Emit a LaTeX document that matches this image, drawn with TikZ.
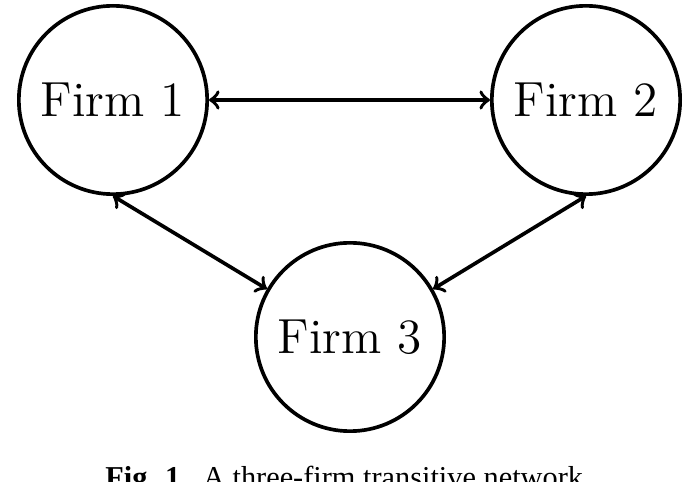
\documentclass[tikz,border=0pt]{standalone}
\usepackage{fontspec}
\newfontfamily\capfont{Liberation Serif}
\begin{document}
\begin{tikzpicture}[x=0.3pt, y=-0.3pt, line width=1.1pt,
    firm/.style={circle, draw, inner sep=0pt, minimum size=56.5pt, font=\fontsize{14.8}{17}\selectfont}]
        \useasboundingbox (0,0) rectangle (699,482);

        % Nodes (top row, then bottom)
        \node (f1) at (113,100) [firm] {Firm 1};
        \node (f2) at (586,100) [firm] {Firm 2};
        \node (f3) at (350,337) [firm] {Firm 3};

        % Edges (both ways)
        \draw[<->] (f1) -- (f2);
        \draw[<->] (f1.south) -- (f3.150);
        \draw[<->] (f2.south) -- (f3.30);

        % Caption
        \node (cap) at (348,487) [anchor=base, font=\capfont\fontsize{9.1}{11}\selectfont]
          {\textbf{Fig. 1.}\enspace A three-firm transitive network.};
      \end{tikzpicture}
\end{document}
